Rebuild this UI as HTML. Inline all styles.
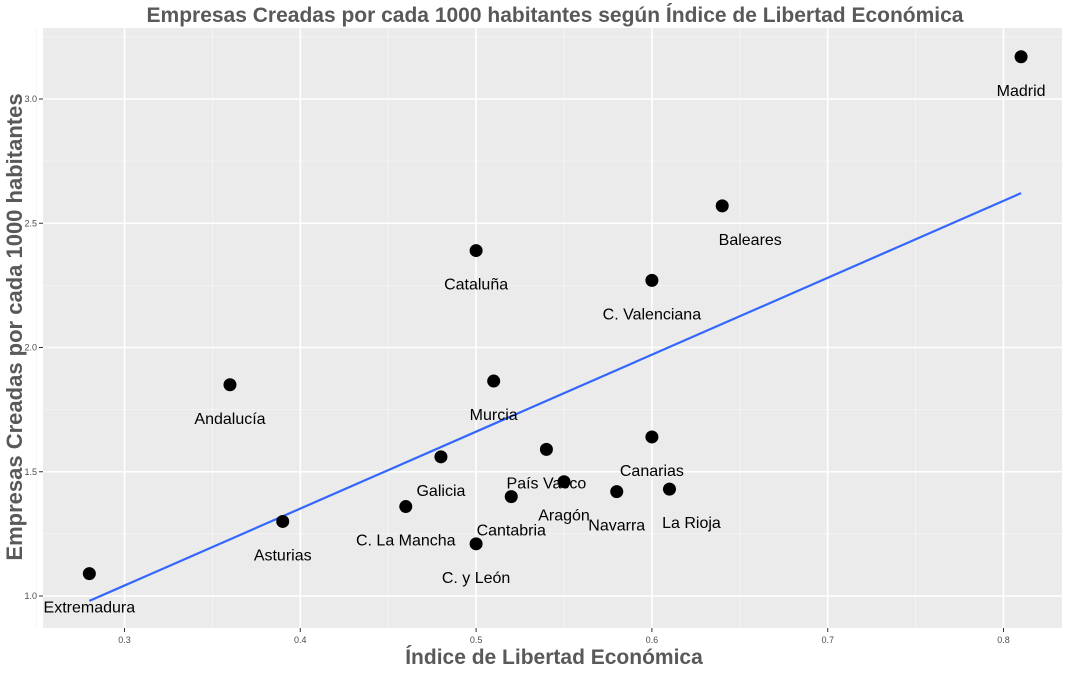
<!DOCTYPE html>
<html><head><meta charset="utf-8"><style>
body{margin:0;background:#fff;}
svg text{font-family:"Liberation Sans",sans-serif;}
</style></head><body>
<svg id="c" width="1066" height="669" xmlns="http://www.w3.org/2000/svg"></svg>
<script>
const regions=["Madrid","Baleares","Cataluña","C. Valenciana","Andalucía","Murcia","País Vasco","Canarias","Galicia","Aragón","Navarra","La Rioja","Cantabria","C. La Mancha","Asturias","C. y León","Extremadura"];
const libertad=[0.81,0.64,0.50,0.60,0.36,0.51,0.54,0.60,0.48,0.55,0.58,0.61,0.52,0.46,0.39,0.50,0.28];
const empresas=[3.17,2.57,2.39,2.27,1.85,1.865,1.59,1.64,1.56,1.46,1.42,1.43,1.40,1.36,1.30,1.21,1.09];
const xTicks=[0.3,0.4,0.5,0.6,0.7,0.8];
const yTicks=[1.0,1.5,2.0,2.5,3.0];
const labelDx=[0,28,0,0,0,0,0,0,0,0,0,22,0,0,0,0,0];
const NS="http://www.w3.org/2000/svg";
const svg=document.getElementById('c');
const L=43,R=1062,T=28,B=628;
const xs=v=>124.5+(v-0.3)*1758;
const ys=v=>596-(v-1)*248.5;
function el(t,a,p){const e=document.createElementNS(NS,t);for(const k in a)e.setAttribute(k,a[k]);(p||svg).appendChild(e);return e;}
const bg=el('rect',{x:L,y:T,width:R-L,height:B-T,fill:'#ebebeb'});


const grid=el('g',{});


for(let i=0;i<xTicks.length+1;i++){const v=0.25+i*0.1;el('line',{x1:xs(v),x2:xs(v),y1:T,y2:B,stroke:'#f5f5f5','stroke-width':0.8},grid);}
for(let i=0;i<yTicks.length+1;i++){const v=0.75+i*0.5;if(ys(v)>T&&ys(v)<B)el('line',{y1:ys(v),y2:ys(v),x1:L,x2:R,stroke:'#f5f5f5','stroke-width':0.8},grid);}
xTicks.forEach(v=>{el('line',{x1:xs(v),x2:xs(v),y1:T,y2:B,stroke:'#fff','stroke-width':1.6},grid);
 el('line',{x1:xs(v),x2:xs(v),y1:B,y2:B+4,stroke:'#333'});
 const t=el('text',{x:xs(v),y:B+15,'text-anchor':'middle','font-size':9,fill:'#4d4d4d'});t.textContent=v.toFixed(1);
 
 });
yTicks.forEach(v=>{el('line',{y1:ys(v),y2:ys(v),x1:L,x2:R,stroke:'#fff','stroke-width':1.6},grid);
 el('line',{y1:ys(v),y2:ys(v),x1:L-4,x2:L,stroke:'#333'});
 const t=el('text',{x:L-6,y:ys(v)+3,'text-anchor':'end','font-size':9,fill:'#4d4d4d'});t.textContent=v.toFixed(1);
 
 });
const n=libertad.length,mx=libertad.reduce((a,b)=>a+b)/n,my=empresas.reduce((a,b)=>a+b)/n;
let sxy=0,sxx=0;for(let i=0;i<n;i++){sxy+=(libertad[i]-mx)*(empresas[i]-my);sxx+=(libertad[i]-mx)**2;}
const b1=sxy/sxx,b0=my-b1*mx,x0=Math.min(...libertad),x1=Math.max(...libertad);
const ln=el('line',{x1:xs(x0),y1:ys(b0+b1*x0),x2:xs(x1),y2:ys(b0+b1*x1),stroke:'#3366ff','stroke-width':2.2});


regions.forEach((r,i)=>{const cx=xs(libertad[i]),cy=ys(empresas[i]);
 const c=el('circle',{cx:cx,cy:cy,r:6.5,fill:'#000'});
 
 
 const t=el('text',{x:cx+labelDx[i],y:cy+39,'text-anchor':'middle','font-size':16,fill:'#000'});t.textContent=r;
 
 });
const tt=el('text',{x:555,y:22,'text-anchor':'middle','font-size':21,'font-weight':'bold',fill:'#595959'});tt.textContent='Empresas Creadas por cada 1000 habitantes según Índice de Libertad Económica';


const xt=el('text',{x:554,y:664,'text-anchor':'middle','font-size':21,'font-weight':'bold',fill:'#595959'});xt.textContent='Índice de Libertad Económica';


const yt=el('text',{x:22,y:327,'text-anchor':'middle','font-size':22,'font-weight':'bold',fill:'#595959',transform:'rotate(-90 22 327)'});yt.textContent='Empresas Creadas por cada 1000 habitantes';


</script>
</body></html>
